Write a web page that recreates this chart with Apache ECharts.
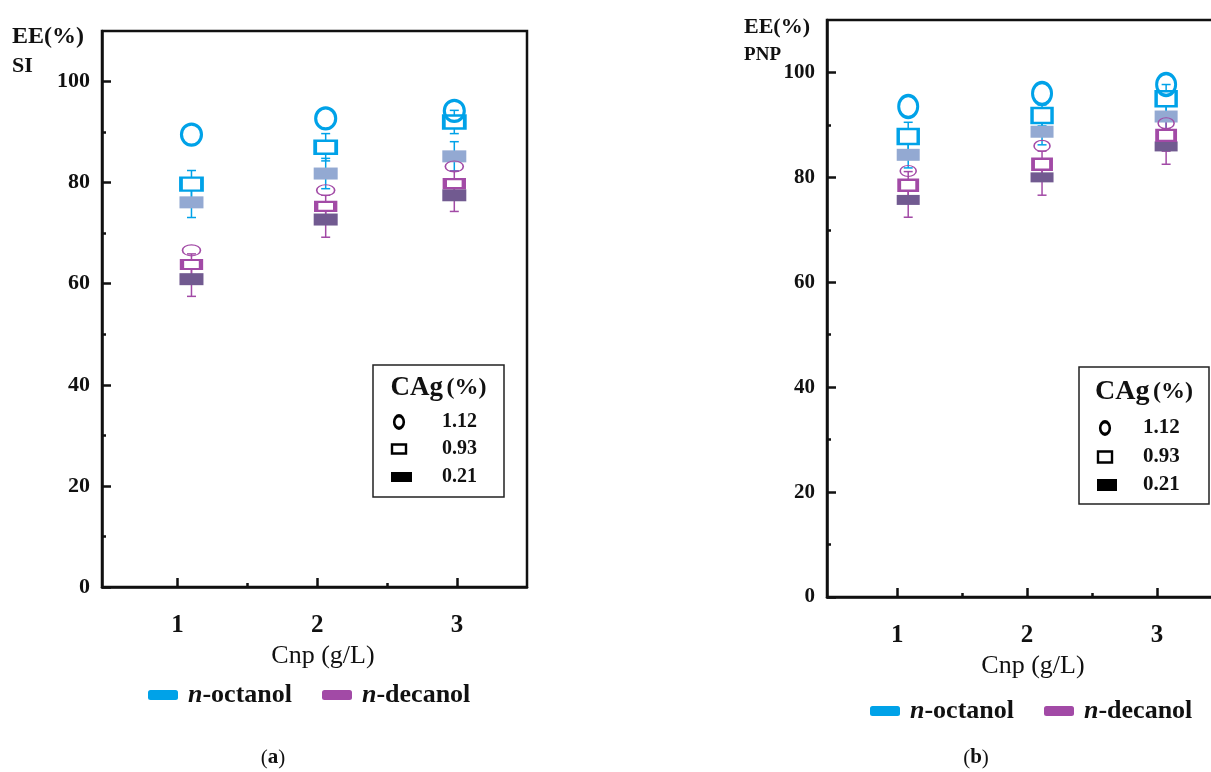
<!DOCTYPE html>
<html>
<head>
<meta charset="utf-8">
<script src="https://cdn.jsdelivr.net/npm/echarts@6/dist/echarts.min.js"></script>
<style>
  html, body { margin: 0; padding: 0; background: #fff; }
  #chart { width: 1211px; height: 772px; }
</style>
</head>
<body>
<div id="chart"></div>
<script>
// Axis ticks shared by both panels
const cnpTicks = [1, 2, 3];
const cnpMinor = [1.5, 2.5];
const eeTicks = [0, 20, 40, 60, 80, 100];
const eeMinor = [10, 30, 50, 70, 90];
const cagLevels = ['1.12', '0.93', '0.21'];

// Panel (a): SI extraction efficiency (%), plotted slightly offset from each Cnp tick
const siX = [1.10, 2.06, 2.98];
const siOct112 = [89.5, 92.7, 94.2];
const siOct093 = [79.7, 87.0, 92.0];
const siOct021 = [76.1, 81.8, 85.2];
const siDec112 = [66.6, 78.5, 83.2];
const siDec093 = [63.8, 75.3, 79.8];
const siDec021 = [60.9, 72.7, 77.5];
const siOct093Err = [2.7, 2.7, 2.3];
const siOct021Err = [3.0, 3.0, 2.9];
const siDec093Err = [2.1, 2.2, 2.5];
const siDec021Err = [3.4, 3.5, 3.2];

// Panel (b): PNP extraction efficiency (%)
const pnpX = [1.085, 2.115, 3.07];
const pnpOct112 = [93.5, 96.0, 97.7];
const pnpOct093 = [87.8, 91.8, 95.0];
const pnpOct021 = [84.3, 88.7, 91.6];
const pnpDec112 = [81.2, 86.0, 90.3];
const pnpDec093 = [78.5, 82.5, 88.0];
const pnpDec021 = [75.7, 80.0, 85.9];
const pnpOct093Err = [2.7, 2.0, 2.7];
const pnpOct021Err = [2.5, 2.5, 2.5];
const pnpDec093Err = [2.6, 2.5, 3.0];
const pnpDec021Err = [3.3, 3.4, 3.4];

const FONT = 'Liberation Serif';
const INK = '#111';
const OCT = '#00a2e8';
const OCT_FILL = '#93a9d2';
const DEC = '#a24aa6';
const DEC_FILL = '#715a90';
const ELLIPSE = 'path://M10,0C15.52,0 20,4.48 20,10C20,15.52 15.52,20 10,20C4.48,20 0,15.52 0,10C0,4.48 4.48,0 10,0Z';

function pts(xs, ys) { return xs.map((x, i) => [x, ys[i]]); }

function marks(name, xs, ys, axis, symbol, size, style, z) {
  style.opacity = 1;
  return {
    type: 'scatter', name: name, xAxisIndex: axis, yAxisIndex: axis,
    data: pts(xs, ys), symbol: symbol, symbolSize: size,
    itemStyle: style, z: z, silent: true, emphasis: { disabled: true }
  };
}

function errorBars(name, xs, ys, errs, axis, color) {
  return {
    type: 'custom', name: name, xAxisIndex: axis, yAxisIndex: axis, z: 1, silent: true,
    encode: { x: 0, y: 1 },
    data: xs.map((x, i) => [x, ys[i], errs[i]]),
    renderItem: function (params, api) {
      const x = api.value(0), y = api.value(1), e = api.value(2);
      const hi = api.coord([x, y + e]);
      const lo = api.coord([x, y - e]);
      const cw = 4.5;
      const st = { stroke: color, lineWidth: 1.5 };
      return {
        type: 'group',
        children: [
          { type: 'line', shape: { x1: hi[0], y1: hi[1], x2: lo[0], y2: lo[1] }, style: st },
          { type: 'line', shape: { x1: hi[0] - cw, y1: hi[1], x2: hi[0] + cw, y2: hi[1] }, style: st },
          { type: 'line', shape: { x1: lo[0] - cw, y1: lo[1], x2: lo[0] + cw, y2: lo[1] }, style: st }
        ]
      };
    }
  };
}

function panelSeries(xs, d, axis, sz) {
  return [
    errorBars('n-octanol', xs, d.oct093, d.oct093Err, axis, OCT),
    errorBars('n-octanol', xs, d.oct021, d.oct021Err, axis, OCT),
    errorBars('n-decanol', xs, d.dec093, d.dec093Err, axis, DEC),
    errorBars('n-decanol', xs, d.dec021, d.dec021Err, axis, DEC),
    marks('n-octanol', xs, d.oct021, axis, 'rect', sz.octFill, { color: OCT_FILL }, 2),
    marks('n-decanol', xs, d.dec021, axis, 'rect', sz.decFill, { color: DEC_FILL }, 2),
    marks('n-octanol', xs, d.oct093, axis, 'rect', sz.octOpen, { color: '#fff', borderColor: OCT, borderWidth: 3 }, 3),
    marks('n-decanol', xs, d.dec093, axis, 'rect', sz.decOpen, { color: '#fff', borderColor: DEC, borderWidth: 3 }, 3),
    marks('n-octanol', xs, d.oct112, axis, ELLIPSE, sz.octCirc, { color: 'rgba(0,0,0,0)', borderColor: OCT, borderWidth: 3.2 }, 4),
    marks('n-decanol', xs, d.dec112, axis, ELLIPSE, sz.decCirc, { color: 'rgba(0,0,0,0)', borderColor: DEC, borderWidth: 1.3 }, 4)
  ];
}

function mainX(grid, name, gap, pad) {
  return {
    type: 'value', gridIndex: grid, min: 0.46, max: 3.5, position: 'bottom',
    axisLine: { show: true, onZero: false, lineStyle: { color: INK, width: 2.5 } },
    axisTick: { show: true, inside: true, length: 9, customValues: cnpTicks, lineStyle: { color: INK, width: 2.5 } },
    axisLabel: { customValues: cnpTicks, fontFamily: FONT, fontSize: 25, fontWeight: 'bold', color: INK, margin: 26 },
    splitLine: { show: false },
    name: name, nameLocation: 'middle', nameGap: gap,
    nameTextStyle: { fontFamily: FONT, fontSize: 26, color: INK, padding: [0, 0, 0, pad] }
  };
}
function minorX(grid) {
  return {
    type: 'value', gridIndex: grid, min: 0.46, max: 3.5, position: 'bottom',
    axisLine: { show: false },
    axisTick: { show: true, inside: true, length: 4, customValues: cnpMinor, lineStyle: { color: INK, width: 2.5 } },
    axisLabel: { show: false }, splitLine: { show: false }
  };
}
function mainY(grid, size) {
  return {
    type: 'value', gridIndex: grid, min: 0, max: 110, position: 'left',
    axisLine: { show: true, onZero: false, lineStyle: { color: INK, width: 2.5 } },
    axisTick: { show: true, inside: true, length: 9, customValues: eeTicks, lineStyle: { color: INK, width: 2.5 } },
    axisLabel: { customValues: eeTicks, fontFamily: FONT, fontSize: size, fontWeight: 'bold', color: INK, margin: 12 },
    splitLine: { show: false }
  };
}
function minorY(grid) {
  return {
    type: 'value', gridIndex: grid, min: 0, max: 110, position: 'left',
    axisLine: { show: false },
    axisTick: { show: true, inside: true, length: 4, customValues: eeMinor, lineStyle: { color: INK, width: 2.5 } },
    axisLabel: { show: false }, splitLine: { show: false }
  };
}

function solventLegend(left, top) {
  return {
    left: left, top: top, orient: 'horizontal', itemWidth: 30, itemHeight: 10, itemGap: 30,
    selectedMode: false,
    textStyle: {
      fontFamily: FONT, fontSize: 26, fontWeight: 'bold', color: INK, padding: [0, 0, 0, 5],
      rich: { i: { fontFamily: FONT, fontSize: 26, fontWeight: 'bold', fontStyle: 'italic', color: INK } }
    },
    formatter: function (name) { return '{i|n}' + name.slice(1); },
    data: [
      { name: 'n-octanol', icon: 'roundRect', itemStyle: { color: OCT, borderWidth: 0, opacity: 1 } },
      { name: 'n-decanol', icon: 'roundRect', itemStyle: { color: DEC, borderWidth: 0, opacity: 1 } }
    ]
  };
}

// Concentration key drawn inside each plot
function cagKey(x, y, w, h, title, rows) {
  const cx = x + 26, tx = x + rows.textDx;
  const els = [
    { type: 'rect', shape: { x: x, y: y, width: w, height: h }, style: { fill: '#fff', stroke: '#222', lineWidth: 1.5 }, z: 50 },
    { type: 'text', x: x + w / 2, y: y + title.dy, z: 51,
      style: { text: '{b|CAg} {p|(%)}', align: 'center', verticalAlign: 'middle',
        rich: { b: { fontFamily: FONT, fontSize: title.big, fontWeight: 'bold', fill: INK },
                p: { fontFamily: FONT, fontSize: title.small, fontWeight: 'bold', fill: INK } } } },
    { type: 'circle', x: cx, y: y + rows.dy[0], scaleY: 1.3, z: 51,
      shape: { cx: 0, cy: 0, r: 4.8 }, style: { fill: 'none', stroke: '#000', lineWidth: 2.6 } },
    { type: 'rect', z: 51, shape: { x: cx - rows.sq[0] / 2, y: y + rows.dy[1] - rows.sq[1] / 2, width: rows.sq[0], height: rows.sq[1] },
      style: { fill: '#fff', stroke: '#000', lineWidth: 2.4 } },
    { type: 'rect', z: 51, shape: { x: cx - rows.sq[0] / 2 - 1, y: y + rows.dy[2] - rows.fill[1] / 2, width: rows.fill[0], height: rows.fill[1] },
      style: { fill: '#000' } }
  ];
  cagLevels.forEach(function (lbl, i) {
    els.push({ type: 'text', x: tx, y: y + rows.dy[i], z: 51,
      style: { text: lbl, fontFamily: FONT, fontSize: rows.font, fontWeight: 'bold', fill: INK, align: 'left', verticalAlign: 'middle' } });
  });
  return els;
}

function label(text, x, y, size, align) {
  return { type: 'text', x: x, y: y, style: { text: text, fontFamily: FONT, fontSize: size, fontWeight: 'bold', fill: INK, align: align || 'left', verticalAlign: 'middle' } };
}
function caption(letter, x, y) {
  return { type: 'text', x: x, y: y,
    style: { text: '(' + '{b|' + letter + '})', align: 'center', verticalAlign: 'middle', fontFamily: FONT, fontSize: 21, fill: INK,
      rich: { b: { fontFamily: FONT, fontSize: 21, fontWeight: 'bold', fill: INK } } } };
}

const siData = { oct112: siOct112, oct093: siOct093, oct021: siOct021, dec112: siDec112, dec093: siDec093, dec021: siDec021,
  oct093Err: siOct093Err, oct021Err: siOct021Err, dec093Err: siDec093Err, dec021Err: siDec021Err };
const pnpData = { oct112: pnpOct112, oct093: pnpOct093, oct021: pnpOct021, dec112: pnpDec112, dec093: pnpDec093, dec021: pnpDec021,
  oct093Err: pnpOct093Err, oct021Err: pnpOct021Err, dec093Err: pnpDec093Err, dec021Err: pnpDec021Err };

const sizeA = { octFill: [24, 12], decFill: [24, 12], octOpen: [21, 13], decOpen: [19, 9], octCirc: [20, 21], decCirc: [18, 11] };
const sizeB = { octFill: [23, 12], decFill: [23, 10], octOpen: [20, 15], decOpen: [18, 11], octCirc: [19, 22], decCirc: [16, 11] };

const option = {
  animation: false,
  backgroundColor: '#fff',
  textStyle: { fontFamily: FONT },
  grid: [
    { left: 102, top: 31, width: 425, height: 556, show: true, borderColor: INK, borderWidth: 2.5,
      backgroundColor: 'transparent', outerBoundsMode: 'none' },
    { left: 827, top: 20, width: 395, height: 577, show: true, borderColor: INK, borderWidth: 2.5,
      backgroundColor: 'transparent', outerBoundsMode: 'none' }
  ],
  xAxis: [mainX(0, 'Cnp (g/L)', 45, 17), minorX(0), mainX(1, 'Cnp (g/L)', 50, 17), minorX(1)],
  yAxis: [mainY(0, 22), minorY(0), mainY(1, 21), minorY(1)],
  legend: [solventLegend(143, 677), solventLegend(865, 693)],
  graphic: [].concat(
    [label('EE(%)', 12, 37, 24), label('SI', 12, 66, 22),
     label('EE(%)', 810, 27, 22, 'right'), label('PNP', 781, 55, 19, 'right'),
     caption('a', 273, 758), caption('b', 976, 758)],
    cagKey(373, 365, 131, 132, { dy: 23, big: 27, small: 24 }, { dy: [57, 84, 112], textDx: 69, font: 20, sq: [14, 9], fill: [21, 10] }),
    cagKey(1079, 367, 130, 137, { dy: 25, big: 28, small: 24 }, { dy: [61, 90, 118], textDx: 64, font: 21, sq: [14, 11], fill: [20, 12] })
  ),
  series: [].concat(
    panelSeries(siX, siData, 0, sizeA).map(function (s) { s.xAxisIndex = 0; s.yAxisIndex = 0; return s; }),
    panelSeries(pnpX, pnpData, 2, sizeB).map(function (s) { s.xAxisIndex = 2; s.yAxisIndex = 2; return s; })
  )
};

const chart = echarts.init(document.getElementById('chart'), null, { renderer: 'canvas' });
chart.setOption(option);
</script>
</body>
</html>
